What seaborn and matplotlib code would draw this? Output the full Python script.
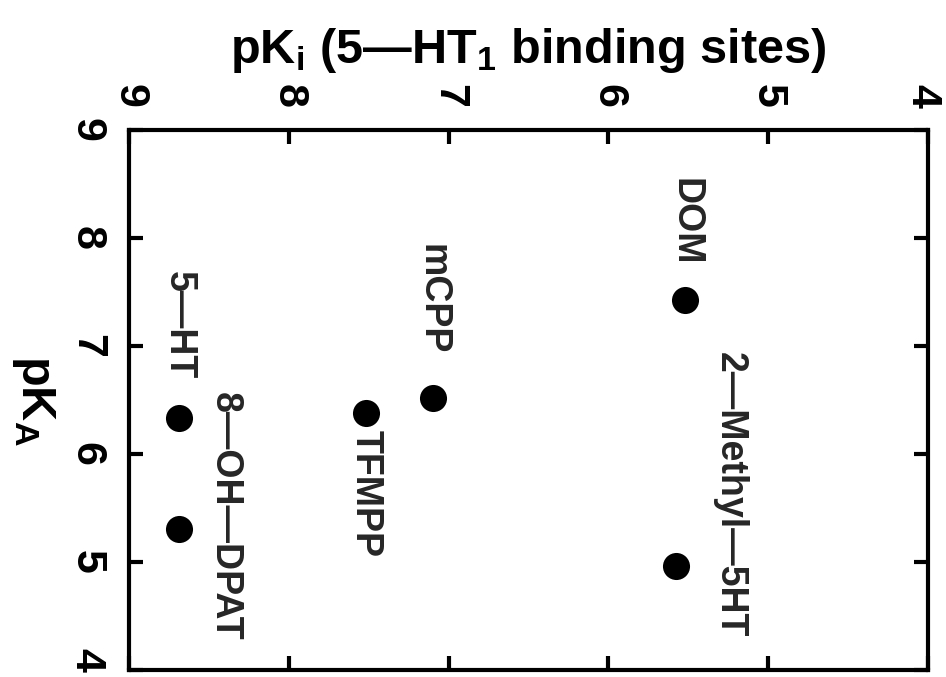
import matplotlib
matplotlib.use("Agg")
import matplotlib.pyplot as plt
import matplotlib.transforms as mtransforms
import seaborn as sns
import pandas as pd

# values
compounds = ["DOM", "2\u2014Methyl\u20145HT", "mCPP", "TFMPP", "5\u2014HT", "8\u2014OH\u2014DPAT"]
pki = [5.52, 5.58, 7.10, 7.52, 8.69, 8.69]
pka = [7.43, 4.96, 6.52, 6.38, 6.33, 5.31]

# label offsets (pKi, pKA) from each point
lab_dx = [0.0, -0.34, 0.0, 0.0, 0.0, -0.29]
lab_dy = [0.32, 0.66, 0.40, -0.16, 0.36, 0.11]
lab_va = ["bottom", "center", "bottom", "top", "bottom", "center"]

df = pd.DataFrame({"compound": compounds, "pKi": pki, "pKA": pka})

sns.set_style("white")
fam = ["Liberation Sans", "DejaVu Sans"]
plt.rcParams["font.family"] = fam
plt.rcParams["font.weight"] = "bold"
plt.rcParams["mathtext.fontset"] = "custom"
plt.rcParams["mathtext.rm"] = "Liberation Sans:bold"
plt.rcParams["mathtext.bf"] = "Liberation Sans:bold"
plt.rcParams["mathtext.it"] = "Liberation Sans:bold"
plt.rcParams["mathtext.default"] = "bf"

fig = plt.figure(figsize=(9.46, 6.77), dpi=100)
ax = fig.add_axes([0.1364, 0.0103, 0.8446, 0.7976])

sns.scatterplot(data=df, x="pKi", y="pKA", color="black", s=380,
                edgecolor="black", linewidth=0, ax=ax, legend=False)

for i, name in enumerate(compounds):
    ax.text(pki[i] + lab_dx[i], pka[i] + lab_dy[i], name, rotation=-90,
            ha="center", va=lab_va[i], fontsize=27, fontweight="bold")

ax.set_xlim(9, 4)
ax.set_ylim(4, 9)
ax.set_xticks([9, 8, 7, 6, 5, 4])
ax.set_yticks([4, 5, 6, 7, 8, 9])
ax.xaxis.tick_top()
ax.xaxis.set_label_position("top")
ax.tick_params(axis="both", direction="in", length=10, width=3,
               top=True, bottom=True, left=True, right=True,
               labelsize=31, pad=16, colors="black")
for lab in ax.get_xticklabels() + ax.get_yticklabels():
    lab.set_rotation(-90)
    lab.set_fontweight("bold")
for lab in ax.get_xticklabels():
    lab.set_va("bottom")
for lab in ax.get_yticklabels():
    lab.set_ha("right")
    lab.set_va("center")

# keep the edge labels inside the canvas, as in the scan
xl = ax.get_xticklabels()[-1]
xl.set_transform(xl.get_transform() + mtransforms.ScaledTranslation(-4 / 72, 0, fig.dpi_scale_trans))
yl = ax.get_yticklabels()[0]
yl.set_transform(yl.get_transform() + mtransforms.ScaledTranslation(0, 7 / 72, fig.dpi_scale_trans))

ax.set_xlabel("pK$_i$ (5\u2014HT$_1$ binding sites)",
              fontsize=35, fontweight="bold", labelpad=15, color="black")
ax.set_ylabel("pK$_A$", fontsize=35, fontweight="bold",
              rotation=-90, va="center", labelpad=24, color="black")

for sp in ax.spines.values():
    sp.set_linewidth(3)
    sp.set_color("black")

fig.savefig("out.png", dpi=100)
